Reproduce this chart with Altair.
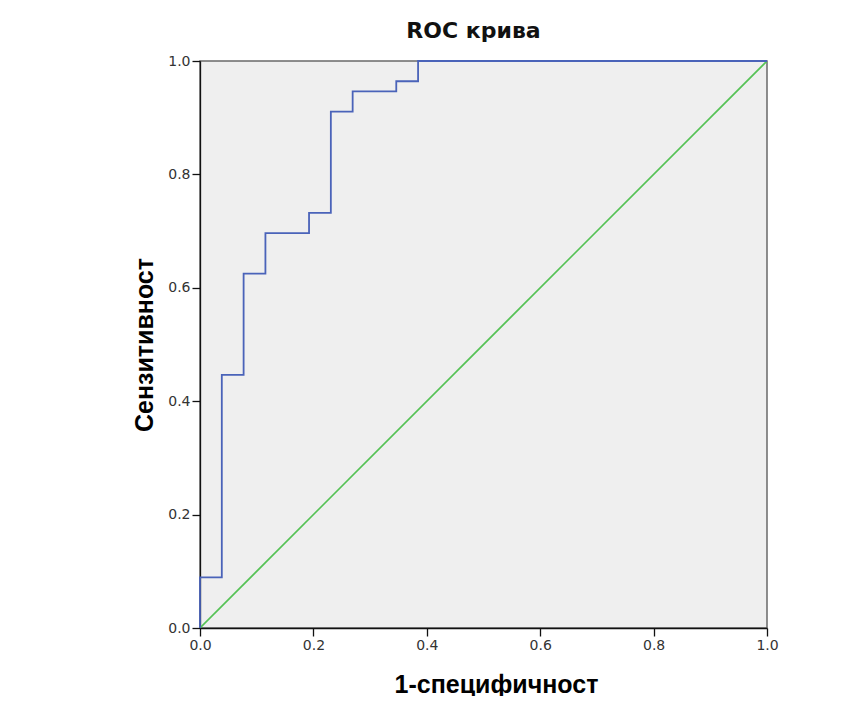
import altair as alt
import pandas as pd

# ROC curve step points (1-specificity, sensitivity)
fpr = [0.0, 0.0, 1/26, 2/26, 3/26, 5/26, 6/26, 7/26, 9/26, 10/26, 1.0]
tpr = [0.0, 5/56, 25/56, 35/56, 39/56, 41/56, 51/56, 53/56, 54/56, 1.0, 1.0]
ref_x = [0.0, 1.0]
ref_y = [0.0, 1.0]
ticks = [0.0, 0.2, 0.4, 0.6, 0.8, 1.0]

roc = pd.DataFrame({"x": fpr, "y": tpr, "o": list(range(len(fpr)))})
ref = pd.DataFrame({"x": ref_x, "y": ref_y, "o": [0, 1]})

FONT = "Liberation Sans"

xscale = alt.Scale(domain=[0, 1], nice=False, zero=False)
yscale = alt.Scale(domain=[0, 1], nice=False, zero=False)

common = dict(values=ticks, format=".1f", grid=False, labelFlush=False,
              domainColor="#111", domainWidth=1.3, tickColor="#111", tickWidth=1.3,
              tickSize=8, labelFontSize=14, labelColor="#333", labelFont="DejaVu Sans",
              titleFont=FONT, titleFontSize=25, titleFontWeight="bold",
              titleColor="#000")

xaxis = alt.Axis(title="1-специфичност", labelPadding=2, titlePadding=20,
                 titleX=296, **common)
yaxis = alt.Axis(title="Сензитивност", labelPadding=2, titlePadding=10, **common)

diag = alt.Chart(ref).mark_line(color="#55c255", strokeWidth=1.6, clip=True).encode(
    x=alt.X("x:Q", scale=xscale, axis=xaxis),
    y=alt.Y("y:Q", scale=yscale, axis=yaxis),
    order="o:Q",
)

curve = alt.Chart(roc).mark_line(color="#4a63b9", strokeWidth=1.8,
                                  interpolate="step-after", clip=False).encode(
    x=alt.X("x:Q", scale=xscale),
    y=alt.Y("y:Q", scale=yscale),
    order="o:Q",
)

chart = (diag + curve).properties(
    width=567, height=567,
    title=alt.TitleParams("ROC крива", font="DejaVu Sans", fontSize=22, fontWeight="bold",
                          color="#111", anchor="middle", offset=11, dx=-10),
    padding={"left": 192, "top": 53, "right": 93, "bottom": 68},
    autosize=alt.AutoSizeParams(type="none"),
    background="white",
).configure_view(
    fill="#efefef", stroke="#6a6a6a", strokeWidth=1.5
)

chart.save("out.html", embed_options={"renderer": "svg", "actions": False})
